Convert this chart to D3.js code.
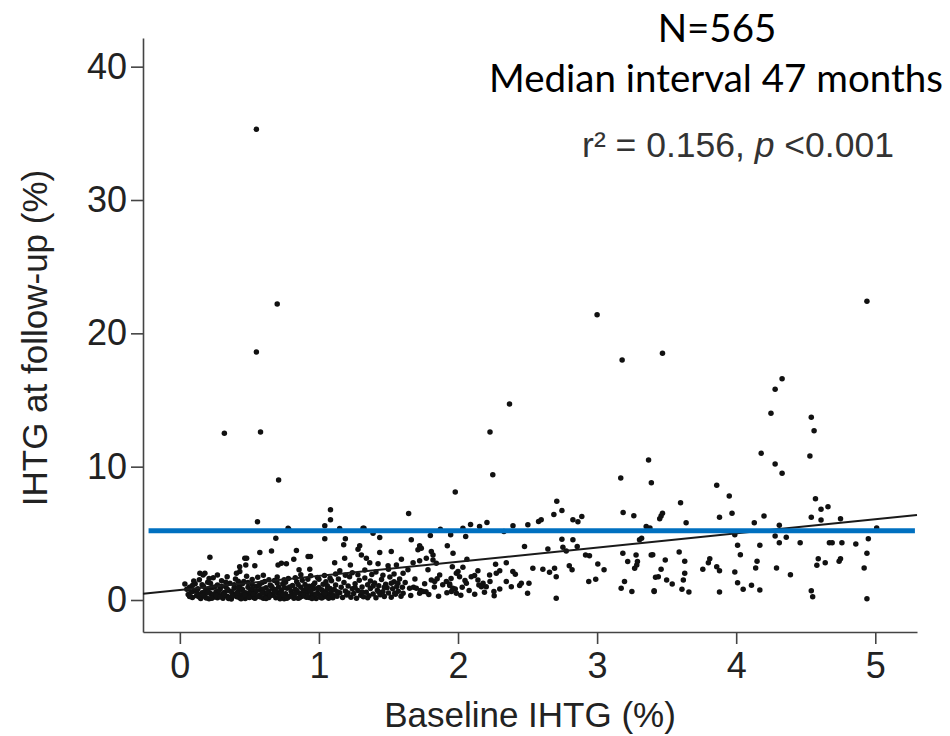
<!DOCTYPE html>
<html>
<head>
<meta charset="utf-8">
<script src="https://cdn.jsdelivr.net/npm/d3@7"></script>
<style>
  html, body { margin: 0; padding: 0; background: #fff; }
  svg { display: block; }
</style>
</head>
<body>
<svg id="chart" width="950" height="736"></svg>
<script>
// ---------- data ----------
const xTicks = [0, 1, 2, 3, 4, 5];
const yTicks = [0, 10, 20, 30, 40];
const xLabel = "Baseline IHTG (%)";
const yLabel = "IHTG at follow-up (%)";
const annotN = "N=565";
const annotInterval = "Median interval 47 months";

// high outliers
const outlierPoints = [
  [0.55,35.3],[0.70,22.2],[0.55,18.6],[0.32,12.5],[0.58,12.6],[0.71,9.0],
  [2.37,14.7],[2.23,12.6],[2.25,9.4],[1.98,8.1],[3.00,21.4],[3.18,18.0],
  [3.47,18.5],[3.17,9.15],[3.37,10.5],[3.39,8.8],[4.94,22.4],[4.33,16.6],
  [4.28,15.8],[4.25,14.0],[4.54,13.7],[4.56,12.7],[4.53,10.8],[4.18,11.0],
  [4.28,10.2],[4.33,9.5],[3.86,8.6],[3.95,7.8],[3.60,7.3],[4.57,7.6],[2.71,7.4]
];

// scattered points, left part
const leftSpread = [
  [0.558,5.86],[1.083,6.77],[1.083,6.02],[1.042,5.56],[1.149,5.36],[1.324,5.39],[1.389,5.01],
  [0.783,5.31],[0.69,4.64],[1.042,4.59],[1.19,4.59],[1.178,4.14],[1.437,4.69],[1.293,4.06],
  [1.281,3.81],[1.52,3.63],[1.437,3.56],[0.838,3.71],[0.575,3.56],[0.659,3.68],[0.216,3.21],
  [0.467,3.13],[0.474,2.63],[0.539,2.56],[0.819,3.06],[0.922,3.26],[0.939,3.26],[0.706,2.63],
  [0.73,2.76],[0.766,2.71],[0.857,2.26],[0.934,2.31],[1.113,2.8],[1.226,2.63],[1.185,3.13],
  [1.305,3.38],[1.341,3.13],[1.365,2.8],[1.425,2.71],[1.497,2.56],[0.144,2.0],[0.18,2.0],
  [0.407,2.0],[0.431,2.13],[0.036,1.2],[0.167,1.88],[0.43,2.5],[0.48,3.13],[1.317,5.39],
  [0.778,5.39],[2.035,5.39]
];

// scattered points, middle part
const midSpread = [
  [1.645,6.49],[2.747,6.71],[2.689,6.41],[2.579,5.89],[2.598,6.02],[2.826,6.02],[2.862,5.86],
  [2.89,6.27],[3.187,6.57],[3.264,6.32],[2.09,5.66],[2.155,5.51],[2.208,5.81],[2.055,4.76],
  [1.947,4.89],[1.801,4.84],[1.873,5.3],[1.664,4.51],[1.724,4.06],[1.736,3.88],[1.712,3.76],
  [1.923,4.06],[1.964,3.51],[1.808,3.63],[1.82,3.38],[2.33,5.14],[2.395,5.56],[2.502,5.64],
  [2.478,4.01],[2.747,4.56],[2.826,4.51],[2.646,3.83],[2.754,3.96],[2.778,3.68],[2.857,4.01],
  [2.917,3.38],[2.945,3.31],[2.064,3.06],[1.593,3.06],[1.677,2.8],[1.724,2.95],[1.772,3.13],
  [1.82,3.0],[1.844,2.76],[1.959,2.5],[2.035,2.46],[2.0,2.13],[2.143,2.2],[2.119,1.83],
  [2.227,1.88],[2.27,2.68],[2.347,2.8],[2.275,2.0],[2.3,2.2],[2.394,2.13],[2.412,1.93],
  [2.347,1.38],[2.455,1.26],[2.443,1.08],[2.383,1.0],[2.51,1.26],[2.5,0.5],[2.538,2.38],
  [2.61,2.3],[2.658,2.08],[2.694,2.38],[2.706,1.75],[2.706,0.13],[2.8,2.56],[2.82,2.26],
  [2.94,1.38],[2.99,1.56],[3.005,2.7],[3.05,2.26],[3.173,0.88],[3.197,1.38],[3.25,0.63],
  [3.185,3.51],[3.22,2.88],[3.28,3.38],[3.285,2.63],[3.29,2.88],[3.27,2.38],[3.305,4.51],
  [3.32,4.64],[3.353,5.51],[3.389,3.38],[3.41,0.63],[3.44,1.75],
  [1.557,2.63],[1.605,2.0],[1.64,2.26],[1.568,1.26],[1.545,0.5],[1.605,0.5],[1.652,0.88],
  [1.7,0.88],[1.724,0.5],[1.748,0.63],[1.784,2.26],[1.808,1.5],[1.832,1.38],[1.868,1.88],
  [1.916,1.38],[1.94,1.08],[1.963,0.88],[1.988,2.0],[2.011,1.75],[1.952,0.63],[1.988,0.5],
  [2.06,1.26],[2.095,1.75],[2.143,1.5],[2.18,1.26],[2.168,1.0],[2.203,1.0],[2.258,0.63]
];

// scattered points, right part
const rightSpread = [
  [4.61,6.8],[4.66,7.0],[3.47,6.5],[3.46,6.3],[3.45,6.1],[3.88,6.2],[3.97,6.5],[4.2,6.3],
  [3.64,5.8],[4.13,5.8],[4.31,5.6],[4.54,6.2],[4.61,6.0],[4.75,6.1],[3.38,5.4],[5.01,5.4],
  [3.99,4.9],[4.28,4.8],[4.31,4.3],[4.36,4.7],[4.46,4.3],[4.67,4.3],[4.69,4.3],[4.76,4.3],
  [4.86,4.2],[4.95,4.6],[4.17,4.1],[4.01,4.1],[4.03,3.4],[3.4,3.4],[3.59,3.6],[3.49,3.0],
  [3.63,2.9],[3.81,3.1],[3.8,2.8],[3.76,2.3],[3.86,2.5],[3.88,2.2],[3.99,2.1],[4.15,2.9],
  [4.14,2.4],[4.29,2.4],[4.39,1.9],[4.59,3.1],[4.58,2.6],[4.64,2.8],[4.74,2.9],[4.75,3.1],
  [4.94,3.5],[4.92,2.4],[3.46,2.3],[3.42,1.7],[3.5,1.5],[3.54,1.2],[3.63,2.0],[3.62,1.5],
  [3.61,0.8],[3.66,0.6],[3.41,0.7],[3.88,0.6],[4.01,1.3],[4.05,0.8],[4.11,1.1],[4.17,0.75],
  [4.54,0.7],[4.55,0.25],[4.94,0.1]
];

// dense cluster at low baseline values
const clusterCore = [
  [0.06,0.42],[0.07,0.95],[0.09,0.18],[0.10,0.66],[0.11,1.21],[0.12,0.31],[0.13,0.84],[0.14,1.52],
  [0.15,0.12],[0.16,0.55],[0.17,1.03],[0.18,0.27],[0.19,0.78],[0.20,1.34],[0.21,0.09],[0.22,0.48],
  [0.23,0.92],[0.24,1.67],[0.25,0.22],[0.26,0.61],[0.27,1.12],[0.28,0.36],[0.29,0.83],[0.30,1.45],
  [0.31,0.14],[0.32,0.57],[0.33,0.99],[0.34,0.29],[0.35,0.71],[0.36,1.26],[0.37,0.08],[0.38,0.46],
  [0.39,0.88],[0.40,1.58],[0.41,0.24],[0.42,0.64],[0.43,1.07],[0.44,0.38],[0.45,0.79],[0.46,1.39],
  [0.47,0.11],[0.48,0.52],[0.49,0.95],[0.50,0.31],[0.51,0.73],[0.52,1.18],[0.53,0.19],[0.54,0.59],
  [0.55,1.02],[0.56,1.71],[0.57,0.34],[0.58,0.77],[0.59,1.29],[0.60,0.13],[0.61,0.49],[0.62,0.91],
  [0.63,0.26],[0.64,0.68],[0.65,1.13],[0.66,0.41],[0.67,0.84],[0.68,1.47],[0.69,0.16],[0.70,0.56],
  [0.71,0.98],[0.72,0.32],[0.73,0.74],[0.74,1.22],[0.75,0.10],[0.76,0.47],[0.77,0.89],[0.78,1.61],
  [0.79,0.28],[0.80,0.66],[0.81,1.09],[0.82,0.37],[0.83,0.81],[0.84,1.36],[0.85,0.14],[0.86,0.53],
  [0.87,0.96],[0.88,0.29],[0.89,0.71],[0.90,1.17],[0.91,0.21],[0.92,0.62],[0.93,1.04],[0.94,1.82],
  [0.95,0.39],[0.96,0.82],[0.97,1.28],[0.98,0.12],[0.99,0.51],[1.00,0.93],[1.01,0.33],[1.02,0.76],
  [1.03,1.19],[1.04,0.24],[1.05,0.63],[1.06,1.07],[1.07,0.42],[1.08,0.87],[1.09,1.44],[1.10,0.17],
  [0.08,0.58],[0.10,1.42],[0.12,0.72],[0.14,0.22],[0.16,1.15],[0.18,0.63],[0.19,0.15],[0.21,0.87],
  [0.22,1.25],[0.24,0.41],[0.25,0.98],[0.27,0.17],[0.28,0.69],[0.30,1.04],[0.31,0.46],[0.33,1.33],
  [0.34,0.82],[0.36,0.21],[0.37,0.62],[0.39,1.14],[0.40,0.35],[0.42,0.93],[0.43,0.16],[0.45,1.21],
  [0.46,0.58],[0.48,0.26],[0.49,1.31],[0.51,0.44],[0.52,0.86],[0.54,0.13],[0.55,0.67],[0.57,1.11],
  [0.58,0.23],[0.60,0.83],[0.61,1.38],[0.63,0.54],[0.64,0.19],[0.66,1.02],[0.67,0.35],[0.69,0.76],
  [0.70,1.27],[0.72,0.09],[0.73,0.51],[0.75,0.94],[0.76,1.33],[0.78,0.21],[0.79,0.97],[0.81,0.43],
  [0.82,0.13],[0.84,0.72],[0.85,1.16],[0.87,0.33],[0.88,1.48],[0.90,0.58],[0.91,0.89],[0.93,0.19],
  [0.94,0.69],[0.96,1.13],[0.97,0.42],[0.99,0.86],[1.00,1.55],[1.02,0.15],[1.03,0.54],[1.05,1.36],
  [1.06,0.81],[1.08,0.27],[1.09,0.68],[0.05,0.81],[0.07,0.26],[0.09,1.09],
  [0.13,0.45],[0.17,0.38],[0.20,0.57],[0.23,0.13],[0.26,0.33],[0.29,0.24],[0.32,0.41],[0.35,0.12],
  [0.38,0.28],[0.41,0.53],[0.44,0.09],[0.47,0.36],[0.50,0.18],[0.53,0.43],[0.56,0.27],[0.59,0.52],
  [0.62,0.11],[0.65,0.34],[0.68,0.58],[0.71,0.22],[0.74,0.41],[0.77,0.14],[0.80,0.31],[0.83,0.49],
  [0.86,0.16],[0.89,0.39],[0.92,0.27],[0.95,0.12],[0.98,0.44],[1.01,0.21],[1.04,0.48],[1.07,0.13],
  [1.10,0.36],[0.21,1.62],[0.27,1.88],[0.34,1.74],[0.42,1.41],[0.48,1.78],[0.52,1.53],[0.60,1.86],
  [0.64,1.52],[0.70,1.73],[0.75,1.51],[0.83,1.67],[0.87,1.89],[0.92,1.56],[0.99,1.69],[1.04,1.84],
  [1.08,1.63]
];

const clusterEdge = [
  [1.11,0.78],[1.12,1.12],[1.13,0.29],[1.14,1.57],[1.15,0.55],[1.16,0.95],[1.17,0.18],[1.18,1.31],
  [1.19,0.67],[1.20,0.38],[1.21,1.05],[1.22,1.74],[1.23,0.21],[1.24,0.84],[1.25,0.49],[1.26,1.22],
  [1.27,0.13],[1.28,0.71],[1.29,1.48],[1.30,0.36],[1.31,0.98],[1.32,0.24],[1.33,1.65],[1.34,0.59],
  [1.35,1.14],[1.36,0.31],[1.37,0.86],[1.38,1.92],[1.39,0.45],[1.40,1.28],[1.41,0.16],[1.42,0.73],
  [1.43,1.06],[1.44,0.39],[1.45,1.53],[1.46,0.62],[1.47,0.27],[1.48,1.18],[1.49,0.91],[1.50,0.52],
  [1.51,1.72],[1.52,0.20],[1.53,0.84],[1.54,1.36],[1.55,0.43],[1.56,1.01],[1.57,0.65],[1.58,1.58],
  [1.59,0.28],[1.60,0.96],[1.12,1.95],[1.15,2.20],[1.19,1.85],[1.24,2.05],[1.28,1.90],[1.33,2.25],
  [1.37,1.42],[1.41,2.10],[1.46,1.85],[1.50,2.30],[1.54,1.95],[1.13,0.62],[1.21,0.52],[1.26,0.92],
  [1.31,0.60],[1.35,0.16],[1.39,1.05],[1.43,0.60],[1.47,0.95],[1.52,1.25],
  [1.62,1.32],[1.66,0.33],[1.69,1.58],[1.73,0.72],[1.76,1.21],[1.79,0.41],[1.83,0.98],[1.86,0.28],
  [1.89,1.15],[1.92,0.55],[1.95,1.62],[1.98,0.83],[2.02,0.36],[2.05,1.46],[2.08,0.71],[2.12,0.44],
  [2.15,1.12],[2.19,0.59],[2.23,1.38],[2.26,0.31],[2.30,0.82],[1.68,0.95],[1.77,0.62],[1.85,1.60],
  [1.94,1.20],[2.03,0.95]
];

// fitted regression line endpoints and horizontal reference line
const regressionLine = [[-0.265, 0.47], [5.3, 6.37]];
const referenceLevel = 5.2;
const referenceSpan = [-0.225, 5.285];

// ---------- drawing ----------
const svg = d3.select("#chart");
svg.append("rect").attr("width", 950).attr("height", 736).attr("fill", "#fff");

const x = d3.scaleLinear().domain([-0.265, 5.3]).range([143, 917]);
const y = d3.scaleLinear().domain([-2.4, 42.15]).range([632, 38]);

const axisFont = "'Liberation Sans', Arial, sans-serif";

const gx = svg.append("g")
  .attr("transform", "translate(0,632)")
  .call(d3.axisBottom(x).tickValues(xTicks).tickSize(12).tickSizeOuter(0).tickPadding(8).tickFormat(d3.format("d")));
const gy = svg.append("g")
  .attr("transform", "translate(143,0)")
  .call(d3.axisLeft(y).tickValues(yTicks).tickSize(12).tickSizeOuter(0).tickPadding(4).tickFormat(d3.format("d")));

[gx, gy].forEach(g => {
  g.select(".domain").attr("stroke", "#444").attr("stroke-width", 1.6);
  g.selectAll(".tick line").attr("stroke", "#444").attr("stroke-width", 1.6);
  g.selectAll(".tick text")
    .attr("fill", "#222")
    .style("font-family", axisFont)
    .style("font-size", "36px");
});

// axis titles
svg.append("text")
  .attr("x", 530).attr("y", 727)
  .attr("text-anchor", "middle")
  .attr("fill", "#222")
  .style("font-family", axisFont).style("font-size", "35px")
  .text(xLabel);

svg.append("text")
  .attr("transform", "translate(47,338) rotate(-90)")
  .attr("text-anchor", "middle")
  .attr("fill", "#222")
  .style("font-family", axisFont).style("font-size", "35px")
  .text(yLabel);

// points
const allPoints = [].concat(clusterCore, clusterEdge, leftSpread, midSpread, rightSpread, outlierPoints);
svg.append("g")
  .selectAll("circle")
  .data(allPoints)
  .join("circle")
  .attr("cx", d => x(d[0]))
  .attr("cy", d => y(d[1]))
  .attr("r", 2.75)
  .attr("fill", "#111");

// regression line
svg.append("path")
  .datum(regressionLine)
  .attr("d", d3.line().x(d => x(d[0])).y(d => y(d[1])))
  .attr("fill", "none")
  .attr("stroke", "#1a1a1a")
  .attr("stroke-width", 2);

// reference line (blue)
svg.append("line")
  .attr("x1", x(referenceSpan[0])).attr("x2", x(referenceSpan[1]))
  .attr("y1", y(referenceLevel)).attr("y2", y(referenceLevel))
  .attr("stroke", "#0070C0")
  .attr("stroke-width", 5);

// annotations
const annFont = "Lato, 'Open Sans', sans-serif";
svg.append("text")
  .attr("x", 717).attr("y", 42)
  .attr("text-anchor", "middle").attr("fill", "#000")
  .style("font-family", annFont).style("font-size", "38.5px")
  .text(annotN);
svg.append("text")
  .attr("x", 716).attr("y", 92)
  .attr("text-anchor", "middle").attr("fill", "#000")
  .style("font-family", annFont).style("font-size", "38.5px")
  .text(annotInterval);

const stat = svg.append("text")
  .attr("x", 738).attr("y", 157)
  .attr("text-anchor", "middle").attr("fill", "#333")
  .style("font-family", axisFont).style("font-size", "35.5px");
stat.append("tspan").text("r\u00B2 = 0.156, ");
stat.append("tspan").style("font-style", "italic").text("p");
stat.append("tspan").text(" <0.001");
</script>
</body>
</html>
